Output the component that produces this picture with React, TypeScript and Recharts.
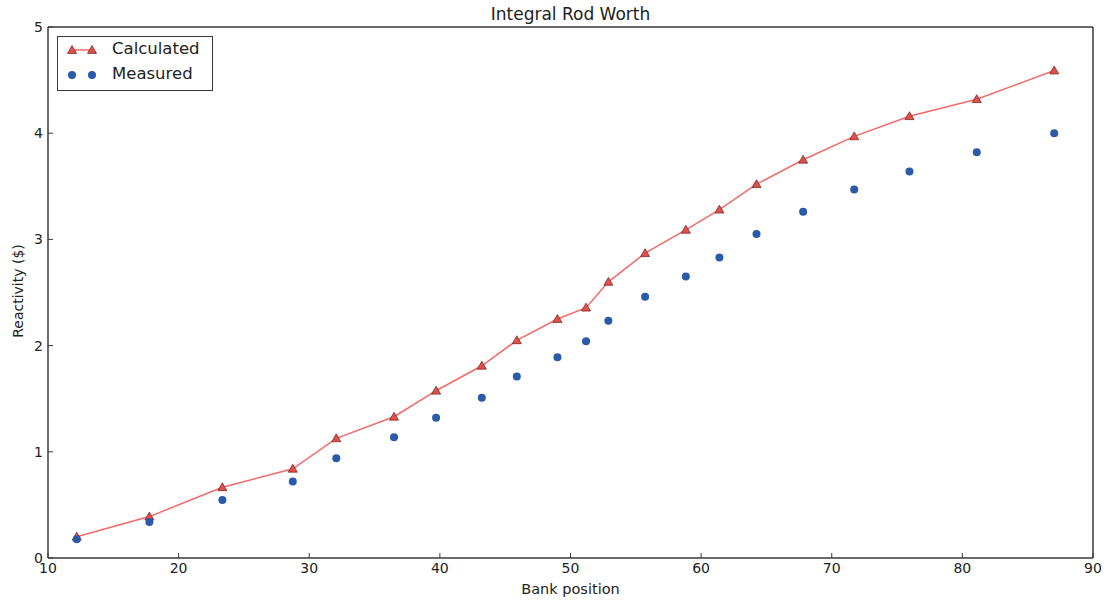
import React from 'react';
import { ScatterChart, Scatter, XAxis, YAxis } from 'recharts';

// Bank position of each data point
const bankPosition = [12.2, 17.76, 23.35, 28.74, 32.07, 36.49, 39.71, 43.21, 45.89, 49.0, 51.19, 52.9, 55.71, 58.83, 61.4, 64.24, 67.81, 71.72, 75.95, 81.1, 87.03];
// Reactivity in dollars
const calculated = [0.2, 0.39, 0.666, 0.84, 1.127, 1.33, 1.575, 1.81, 2.05, 2.25, 2.357, 2.6, 2.87, 3.09, 3.28, 3.52, 3.75, 3.97, 4.16, 4.32, 4.59];
const measured = [0.176, 0.34, 0.546, 0.72, 0.94, 1.137, 1.32, 1.51, 1.71, 1.89, 2.04, 2.235, 2.46, 2.65, 2.83, 3.05, 3.26, 3.47, 3.64, 3.82, 4.0];

const xTicks = [10, 20, 30, 40, 50, 60, 70, 80, 90];
const yTicks = [0, 1, 2, 3, 4, 5];

const calcData = bankPosition.map((x, i) => ({ x, y: calculated[i] }));
const measData = bankPosition.map((x, i) => ({ x, y: measured[i] }));

const FONT = '"DejaVu Sans", sans-serif';
const AXIS = '#3a3a3a';
const RED_LINE = '#f36a68';
const RED_FILL = '#e2504c';
const RED_EDGE = '#7a2a26';
const BLUE = '#2a5aa8';

const Triangle = (props: any) => {
  const { cx, cy } = props;
  if (cx == null || cy == null) return null;
  const s = 4.5;
  return (
    <polygon
      points={`${cx},${cy - s} ${cx + s},${cy + s * 0.75} ${cx - s},${cy + s * 0.75}`}
      fill={RED_FILL}
      stroke={RED_EDGE}
      strokeWidth={0.8}
    />
  );
};

const Dot = (props: any) => {
  const { cx, cy } = props;
  if (cx == null || cy == null) return null;
  return <circle cx={cx} cy={cy} r={4} fill={BLUE} />;
};

const LegendBox = () => (
  <div
    style={{
      position: 'absolute',
      left: 57,
      top: 36,
      width: 156,
      height: 55,
      border: `1.5px solid ${AXIS}`,
      background: '#fff',
      fontFamily: FONT,
      fontSize: 16.5,
      color: '#222',
      boxSizing: 'border-box',
    }}
  >
    <svg width={40} height={52} style={{ position: 'absolute', left: 6, top: 0 }}>
      <line x1={8} y1={13} x2={28} y2={13} stroke={RED_LINE} strokeWidth={1.5} />
      <Triangle cx={8} cy={13} />
      <Triangle cx={28} cy={13} />
      <Dot cx={8} cy={38} />
      <Dot cx={28} cy={38} />
    </svg>
    <div style={{ position: 'absolute', left: 54, top: 2 }}>Calculated</div>
    <div style={{ position: 'absolute', left: 54, top: 27 }}>Measured</div>
  </div>
);

const tickStyle = { fontSize: 14, fill: '#222', fontFamily: FONT };

export default function App() {
  return (
    <div style={{ position: 'absolute', left: 0, top: 0, width: 1114, height: 602, background: '#fff' }}>
      <ScatterChart width={1114} height={602} margin={{ top: 26, right: 20, bottom: 14, left: 8 }}>
        <XAxis
          xAxisId="bottom"
          type="number"
          dataKey="x"
          domain={[10, 90]}
          ticks={xTicks}
          allowDataOverflow
          height={30}
          tickSize={-5}
          tickMargin={10}
          stroke={AXIS}
          axisLine={{ stroke: AXIS, strokeWidth: 1.5 }}
          tick={tickStyle}
          interval={0}
        />
        <XAxis
          xAxisId="top"
          orientation="top"
          type="number"
          dataKey="x"
          domain={[10, 90]}
          ticks={xTicks}
          height={1}
          tickSize={-5}
          tick={false}
          stroke={AXIS}
          axisLine={{ stroke: AXIS, strokeWidth: 1.5 }}
          interval={0}
        />
        <YAxis
          yAxisId="left"
          type="number"
          dataKey="y"
          domain={[0, 5]}
          ticks={yTicks}
          width={40}
          tickSize={-5}
          tickMargin={10}
          stroke={AXIS}
          axisLine={{ stroke: AXIS, strokeWidth: 1.5 }}
          tick={tickStyle}
          interval={0}
        />
        <YAxis
          yAxisId="right"
          orientation="right"
          type="number"
          dataKey="y"
          domain={[0, 5]}
          ticks={yTicks}
          width={1}
          tickSize={-5}
          tick={false}
          stroke={AXIS}
          axisLine={{ stroke: AXIS, strokeWidth: 1.5 }}
          interval={0}
        />
        <Scatter
          name="Calculated"
          data={calcData}
          xAxisId="bottom"
          yAxisId="left"
          line={{ stroke: RED_LINE, strokeWidth: 1.5 }}
          shape={<Triangle />}
          isAnimationActive={false}
        />
        <Scatter
          name="Measured"
          data={measData}
          xAxisId="top"
          yAxisId="right"
          shape={<Dot />}
          isAnimationActive={false}
        />
      </ScatterChart>
      <LegendBox />
      <div
        style={{
          position: 'absolute',
          left: 48,
          width: 1045,
          top: 4,
          textAlign: 'center',
          fontFamily: FONT,
          fontSize: 17,
          color: '#222',
        }}
      >
        Integral Rod Worth
      </div>
      <div
        style={{
          position: 'absolute',
          left: 48,
          width: 1045,
          top: 581,
          textAlign: 'center',
          fontFamily: FONT,
          fontSize: 14.5,
          color: '#222',
        }}
      >
        Bank position
      </div>
      <div
        style={{
          position: 'absolute',
          left: 18,
          top: 291,
          transform: 'translate(-50%, -50%) rotate(-90deg)',
          whiteSpace: 'nowrap',
          fontFamily: FONT,
          fontSize: 14,
          color: '#222',
        }}
      >
        Reactivity ($)
      </div>
    </div>
  );
}
